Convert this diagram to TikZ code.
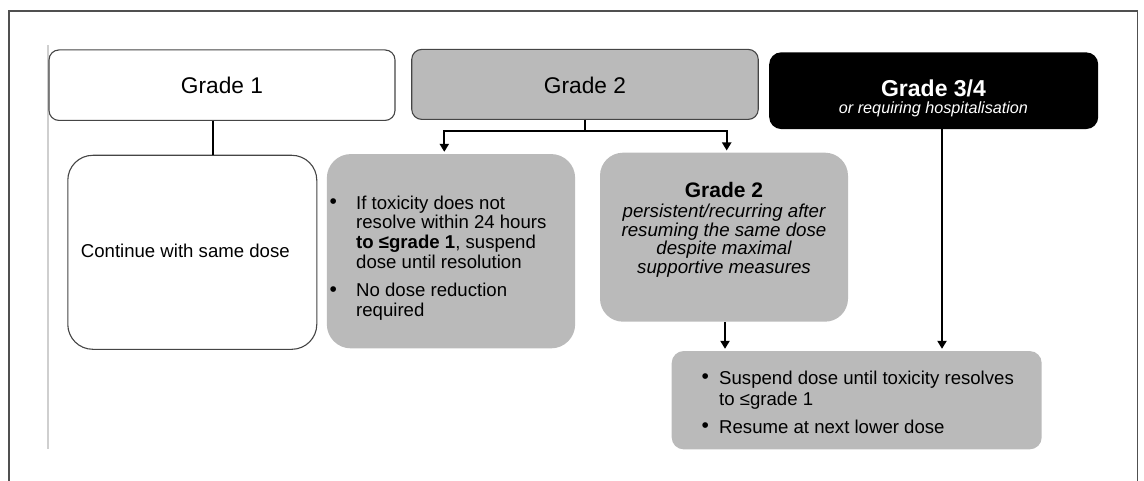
\documentclass[tikz,border=0pt]{standalone}
\usepackage{fontspec}
\setmainfont{Liberation Sans}
\usetikzlibrary{arrows.meta}
\definecolor{boxgray}{HTML}{BABABA}
\definecolor{edgegray}{HTML}{454545}
\definecolor{framegray}{HTML}{505050}
\definecolor{lightrule}{HTML}{CFCFCF}
\newcommand{\mybul}{\raisebox{0.4pt}{\fontsize{21}{21}\selectfont •}}
\begin{document}
\begin{tikzpicture}[x=1pt,y=-1pt,
  whitebox/.style={draw=edgegray, line width=1.1pt, fill=white, inner sep=0pt},
  graybox/.style={fill=boxgray, inner sep=0pt},
  blackbox/.style={fill=black, inner sep=0pt},
  txt/.style={inner sep=0pt, text=black},
  conn/.style={line width=2.2pt, line cap=rect, draw=black},
  arr/.style={line width=2.2pt, draw=black, -{Triangle[width=9pt,length=8pt]}, shorten >=2pt},
  titlefont/.style={font=\fontsize{22.7}{24}\selectfont},
]
\useasboundingbox (0,0) rectangle (1144,481);
% frame
\draw[framegray, line width=1.4pt] (9,481) -- (9,11) -- (1137.7,11) -- (1137.7,481);
\draw[lightrule, line width=1.5pt] (48,45.5) -- (48,449);

% Grade 1
\node[whitebox, rounded corners=10pt, minimum width=346pt, minimum height=70.5pt] (g1) at (222,85.2) {};
\node[txt, anchor=base, titlefont] (g1t) at (222,94) {Grade 1};

% Continue box
\node[whitebox, rounded corners=25pt, minimum width=249pt, minimum height=194pt] (c1) at (192.3,252.3) {};
\node[txt, anchor=base west, font=\fontsize{18.6}{19.7}\selectfont] (c1t) at (80.7,258) {Continue with same dose};

% Grade 2
\node[whitebox, fill=boxgray, rounded corners=10pt, minimum width=346.5pt, minimum height=70pt] (g2) at (585,84.4) {};
\node[txt, anchor=base, titlefont] (g2t) at (585,93.3) {Grade 2};

% Left grey box
\node[graybox, rounded corners=24pt, minimum width=248.3pt, minimum height=194.3pt] (b2) at (451,251.2) {};
\node[txt, anchor=base west, font=\fontsize{18.6}{19.7}\selectfont] (b2t) at (329.5,209.3) {%
\begin{tabular}[t]{@{}l@{}l@{}}
\makebox[26.5pt][l]{\mybul} & If toxicity does not\\
 & resolve within 24 hours\\
 & \textbf{to ≤grade 1}, suspend\\
 & dose until resolution\\[8.5pt]
\makebox[26.5pt][l]{\mybul} & No dose reduction\\
 & required
\end{tabular}};

% Grade 2 persistent box
\node[graybox, rounded corners=23pt, minimum width=248pt, minimum height=169pt] (b3) at (724,237.2) {};
\node[txt, anchor=base, font=\fontsize{18.7}{17.4}\selectfont] (b3t) at (724,197.3) {%
\begin{tabular}[t]{@{}c@{}}
{\bfseries\fontsize{21}{17.4}\selectfont Grade 2}\\[1.3pt]
\itshape persistent/recurring after\\
\itshape resuming the same dose\\
\itshape despite maximal\\
\itshape supportive measures
\end{tabular}};

% Grade 3/4
\node[blackbox, rounded corners=12pt, minimum width=329pt, minimum height=76.7pt] (g3) at (933.7,90.7) {};
\node[txt, anchor=base, text=white, font=\bfseries\fontsize{23}{24}\selectfont] (g3t) at (933.5,96.7) {Grade 3/4};
\node[txt, anchor=base, text=white, font=\itshape\fontsize{16.2}{17}\selectfont] (g3s) at (933.5,114) {or requiring hospitalisation};

% Bottom box
\node[graybox, rounded corners=12pt, minimum width=370pt, minimum height=98.3pt] (b4) at (856.7,400.2) {};
\node[txt, anchor=base west, font=\fontsize{18.6}{20.7}\selectfont] (b4t) at (701.5,384.3) {%
\begin{tabular}[t]{@{}l@{}l@{}}
\makebox[17.5pt][l]{\mybul} & Suspend dose until toxicity resolves\\
 & to ≤grade 1\\[7.6pt]
\makebox[17.5pt][l]{\mybul} & Resume at next lower dose
\end{tabular}};

% connectors
\coordinate (j1) at (213.3,120);
\draw[conn, line cap=butt] (g1.south -| j1) -- (c1.north -| j1);

\coordinate (a2) at (444.3,131);
\coordinate (a3) at (726.7,131);
\draw[conn, line cap=butt] (g2.south) -- (g2.south |- a2);
\draw[conn] (a2) -- (a3);
\draw[arr] (a2) -- (a2 |- b2.north);
\draw[arr] (a3) -- (a3 |- b3.north);

\coordinate (a4) at (725,322);
\draw[arr] (b3.south -| a4) -- (b4.north -| a4);

\coordinate (a5) at (942,129);
\draw[arr] (g3.south -| a5) -- (b4.north -| a5);
\end{tikzpicture}
\end{document}
